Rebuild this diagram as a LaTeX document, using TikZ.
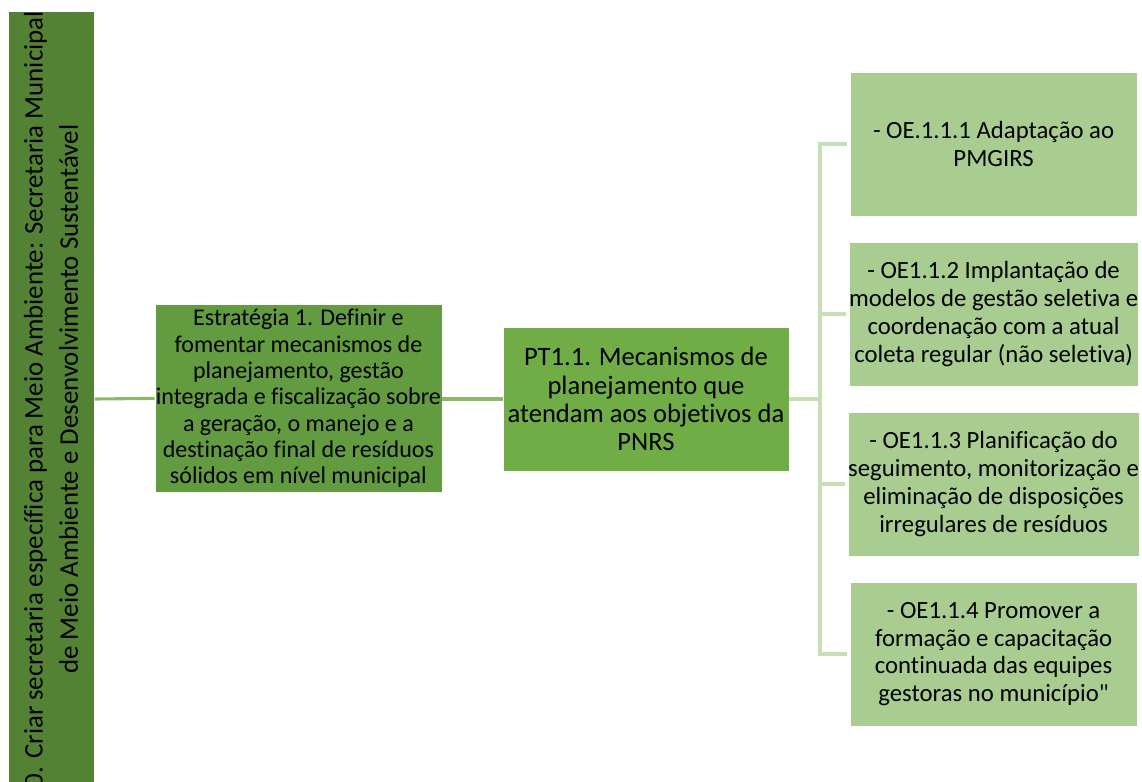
\documentclass[tikz,border=0pt]{standalone}
\usepackage{fontspec}
\setmainfont{Carlito}[Ligatures=CommonOff]
\usetikzlibrary{positioning,calc}
\definecolor{pgBar}{RGB}{84,130,53}
\definecolor{pgStrat}{RGB}{98,155,64}
\definecolor{pgPlan}{RGB}{112,173,71}
\definecolor{pgGoal}{RGB}{169,205,145}
\definecolor{pgLink}{RGB}{137,186,104}
\definecolor{pgTwig}{RGB}{197,224,180}

\begin{document}
\begin{tikzpicture}[
  box/.style={fill=#1, draw=white, line width=0.4pt, align=center, inner sep=0pt},
  link/.style={draw=pgLink, line width=2.2pt},
  twig/.style={draw=pgTwig, line width=2.2pt},
  goal/.style={box=pgGoal, minimum width=7.175cm, minimum height=3.6cm,
    font=\fontsize{17.6}{19.7}\selectfont},
]
\useasboundingbox (0,0) rectangle (28.55,-19.55);
\clip (0,0) rectangle (28.55,-19.55);

% secretaria (column on the left, runs off the page at the bottom)
\node[box=pgBar, minimum width=2.15cm, minimum height=19.6cm, anchor=north west] (sec) at (0.2,-0.275) {};
\node[rotate=90, align=center, font=\fontsize{19.1}{25}\selectfont] (sectxt) at (1.275,-9.98)
  {0. Criar secretaria específica para Meio Ambiente: Secretaria Municipal\\de Meio Ambiente e Desenvolvimento Sustentável};

% strategy and plan
\node[box=pgStrat, minimum width=7.175cm, minimum height=4.7cm,
  font=\fontsize{17.1}{18.7}\selectfont] (est) at (7.46,-9.96)
  {Estratégia 1. Definir e\\fomentar mecanismos de\\planejamento, gestão\\integrada e fiscalização sobre\\a geração, o manejo e a\\destinação final de resíduos\\sólidos em nível municipal};
\node[box=pgPlan, minimum width=7.15cm, minimum height=3.6cm,
  font=\fontsize{18.9}{20.1}\selectfont] (pt) at (16.15,-9.975)
  {PT1.1. Mecanismos de\\planejamento que\\atendam aos objetivos da\\PNRS};

% specific objectives
\node[goal] (oe1) at (24.84,-3.6)   {- OE.1.1.1 Adaptação ao\\PMGIRS};
\node[goal] (oe2) at (24.84,-7.85)  {- OE1.1.2 Implantação de\\modelos de gestão seletiva e\\coordenação com a atual\\coleta regular (não seletiva)};
\node[goal] (oe3) at (24.84,-12.1)  {- OE1.1.3 Planificação do\\seguimento, monitorização e\\eliminação de disposições\\irregulares de resíduos};
\node[goal] (oe4) at (24.84,-16.35) {- OE1.1.4 Promover a\\formação e capacitação\\continuada das equipes\\gestoras no município\textquotedbl};

% connectors
\coordinate (trunk) at (20.5,-9.975);
\draw[link] (sec.east |- pt.west) -- (est.west);
\draw[link] (est.east |- pt.west) -- (pt.west);
\draw[twig] (pt.east) -- (trunk);
\draw[twig] ([xshift=-0.08cm]oe1.west) -- (oe1.west -| trunk) -- (oe4.west -| trunk) -- ([xshift=-0.08cm]oe4.west);
\foreach \i in {2,3}
  \draw[twig] (oe\i.west -| trunk) -- ([xshift=-0.08cm]oe\i.west);
\end{tikzpicture}
\end{document}
